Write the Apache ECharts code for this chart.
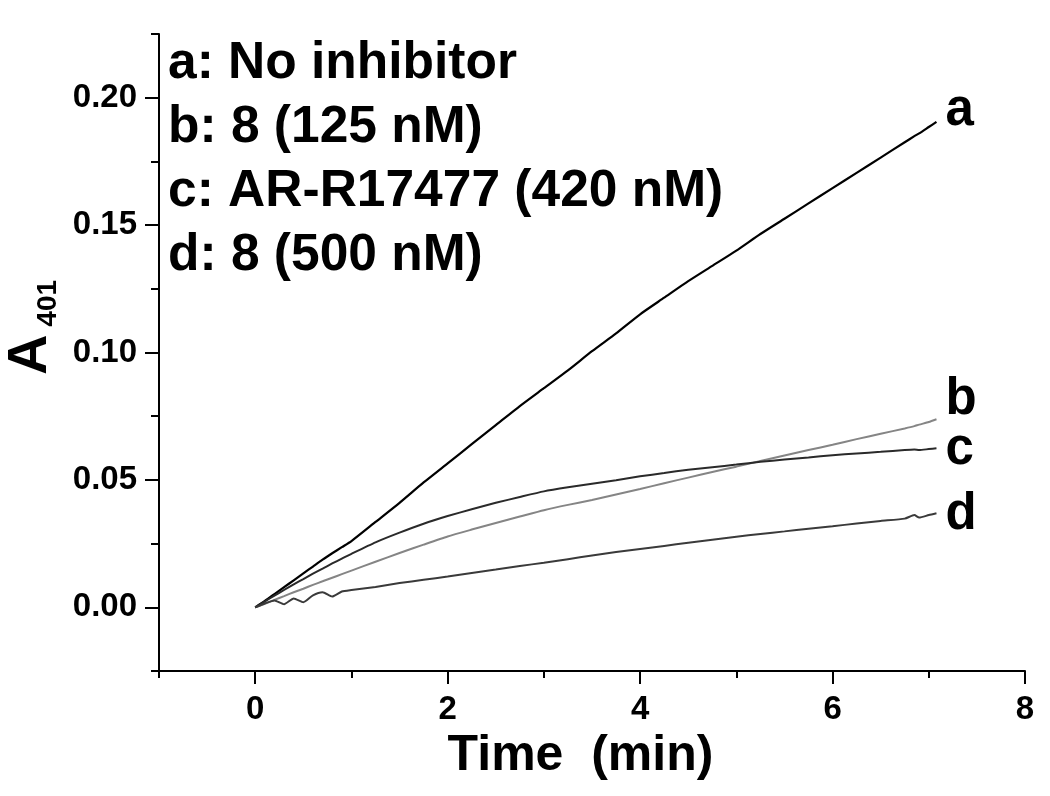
<!DOCTYPE html>
<html lang="en">
<head>
  <meta charset="UTF-8">
  <title>A401 vs Time</title>
  <script src="https://cdn.jsdelivr.net/npm/echarts@6/dist/echarts.min.js"></script>
  <style>
    html, body { margin: 0; padding: 0; background: #fff; }
    #chart { width: 1050px; height: 796px; }
  </style>
</head>
<body>
  <div id="chart"></div>
<script>
  // time points (min)
  var time = [0, 0.1, 0.2, 0.3, 0.4, 0.5, 0.6, 0.7, 0.8, 0.9, 1.0,
    1.25, 1.5, 1.75, 2.0, 2.25, 2.5, 2.75, 3.0, 3.25, 3.5, 3.75, 4.0,
    4.25, 4.5, 4.75, 5.0, 5.25, 5.5, 5.75, 6.0, 6.25, 6.5, 6.75, 6.85, 6.9, 7.0, 7.08]

  // a: No inhibitor
  var curveA = [0, 0.0025, 0.0052, 0.0079, 0.0106, 0.0133, 0.016, 0.0187, 0.0212, 0.0236, 0.026,
    0.0335, 0.041, 0.049, 0.0565, 0.064, 0.0715, 0.079, 0.086, 0.093, 0.1005, 0.1075, 0.115,
    0.1215, 0.128, 0.134, 0.140, 0.1465, 0.1525, 0.1585, 0.1645, 0.1705, 0.1765, 0.1825, 0.1849, 0.186, 0.1885, 0.1905]
  // b: 8 (125 nM)
  var curveB = [0, 0.0014, 0.0029, 0.0044, 0.0059, 0.0073, 0.0088, 0.0102, 0.0116, 0.013, 0.0144,
    0.0179, 0.0213, 0.0246, 0.0278, 0.0305, 0.0331, 0.0356, 0.0381, 0.0402, 0.0421, 0.0443, 0.0464,
    0.0487, 0.0509, 0.0531, 0.0552, 0.0574, 0.0596, 0.0617, 0.0638, 0.066, 0.0681, 0.0702, 0.0711, 0.0717, 0.0727, 0.0738]
  // c: AR-R17477 (420 nM)
  var curveC = [0, 0.0023, 0.0046, 0.0068, 0.009, 0.0111, 0.0132, 0.0152, 0.0172, 0.0191, 0.021,
    0.0255, 0.0293, 0.0328, 0.0358, 0.0385, 0.041, 0.0433, 0.0455, 0.0471, 0.0485, 0.0499, 0.0514,
    0.0527, 0.054, 0.055, 0.056, 0.0571, 0.058, 0.0588, 0.0597, 0.0604, 0.061, 0.0617, 0.0619, 0.0617, 0.0621, 0.0624]
  // d: 8 (500 nM)
  var curveD = [0, 0.0015, 0.0027, 0.0012, 0.0035, 0.002, 0.0047, 0.0059, 0.0042, 0.0062, 0.0068,
    0.008, 0.0095, 0.0108, 0.0121, 0.0135, 0.0148, 0.0162, 0.0175, 0.0189, 0.0203, 0.0217, 0.0229,
    0.0241, 0.0253, 0.0265, 0.0277, 0.0288, 0.0298, 0.0308, 0.0318, 0.0329, 0.0339, 0.0348, 0.0362, 0.0352, 0.0362, 0.0369]

  var names = ['a: No inhibitor', 'b: 8 (125 nM)', 'c: AR-R17477 (420 nM)', 'd: 8 (500 nM)']
  var tags = ['a', 'b', 'c', 'd']
  var xMajor = [0, 2, 4, 6, 8]
  var yMajor = [0, 0.05, 0.10, 0.15, 0.20]

  var font = "'Liberation Sans', Arial, sans-serif"

  function pairs(vals) {
    return time.map(function (t, i) { return [t, vals[i]] })
  }

  function makeLine(idx, vals, color, width, dy) {
    return {
      name: names[idx],
      type: 'line',
      xAxisIndex: 0,
      yAxisIndex: 0,
      data: pairs(vals),
      showSymbol: false,
      symbol: 'none',
      smooth: 0.2,
      lineStyle: { color: color, width: width },
      itemStyle: { color: color },
      endLabel: {
        show: true,
        formatter: tags[idx],
        distance: 9,
        offset: [0, dy],
        color: '#000',
        fontSize: 51,
        fontWeight: 'bold',
        fontFamily: font
      }
    }
  }

  var chart = echarts.init(document.getElementById('chart'))

  chart.setOption({
    animation: false,
    backgroundColor: '#fff',
    legend: {
      orient: 'vertical',
      left: 163,
      top: 38,
      padding: 0,
      icon: 'none',
      itemWidth: 0,
      itemGap: 12,
      selectedMode: false,
      textStyle: { color: '#000', fontSize: 51.5, lineHeight: 50, fontWeight: 'bold', fontFamily: font },
      data: names
    },
    grid: [
      { left: 159, right: 25, top: 34, bottom: 125, outerBoundsMode: 'none' },
      { left: 159, right: 25, top: 34, bottom: 125, outerBoundsMode: 'none' }
    ],
    xAxis: [
      {
        type: 'value', gridIndex: 0, min: -1, max: 8, interval: 1,
        axisLine: { show: true, onZero: false, lineStyle: { color: '#000', width: 2 } },
        axisTick: { show: true, length: 13, customValues: xMajor, lineStyle: { color: '#000', width: 2 } },
        axisLabel: { customValues: xMajor, margin: 22, color: '#000', fontSize: 33, fontWeight: 'bold', fontFamily: font },
        splitLine: { show: false },
        name: 'Time  (min)',
        nameLocation: 'middle',
        nameGap: 59,
        nameTextStyle: { color: '#000', fontSize: 50, fontWeight: 'bold', fontFamily: font, padding: [0, 23, 0, 0] }
      },
      {
        type: 'value', gridIndex: 1, min: -1, max: 8, interval: 1,
        axisLine: { show: false, onZero: false },
        axisTick: { show: true, length: 7, lineStyle: { color: '#000', width: 2 } },
        axisLabel: { show: false },
        splitLine: { show: false }
      }
    ],
    yAxis: [
      {
        type: 'value', gridIndex: 0, min: -0.025, max: 0.225, interval: 0.025,
        axisLine: { show: true, onZero: false, lineStyle: { color: '#000', width: 2 } },
        axisTick: { show: true, length: 14, customValues: yMajor, lineStyle: { color: '#000', width: 2 } },
        axisLabel: {
          customValues: yMajor, margin: 22, color: '#000', fontSize: 33, fontWeight: 'bold', fontFamily: font,
          formatter: function (v) { return v.toFixed(2) }
        },
        splitLine: { show: false },
        name: '{A|A}{s|401}',
        nameLocation: 'middle',
        nameGap: 85,
        nameTextStyle: {
          padding: [0, 0, 0, 50],
          rich: {
            A: { fontSize: 56, lineHeight: 52, fontWeight: 'bold', fontFamily: font, color: '#000', verticalAlign: 'top' },
            s: { fontSize: 28, lineHeight: 28, fontWeight: 'bold', fontFamily: font, color: '#000', padding: [38, 0, 0, 8] }
          }
        }
      },
      {
        type: 'value', gridIndex: 1, min: -0.025, max: 0.225, interval: 0.025,
        axisLine: { show: false, onZero: false },
        axisTick: { show: true, length: 8, lineStyle: { color: '#000', width: 2 } },
        axisLabel: { show: false },
        splitLine: { show: false }
      }
    ],
    series: [
      makeLine(0, curveA, '#000000', 2.2, -11),
      makeLine(1, curveB, '#858585', 2, -19),
      makeLine(2, curveC, '#2a2a2a', 2, 2),
      makeLine(3, curveD, '#3a3a3a', 2, 2)
    ]
  })
</script>
</body>
</html>
